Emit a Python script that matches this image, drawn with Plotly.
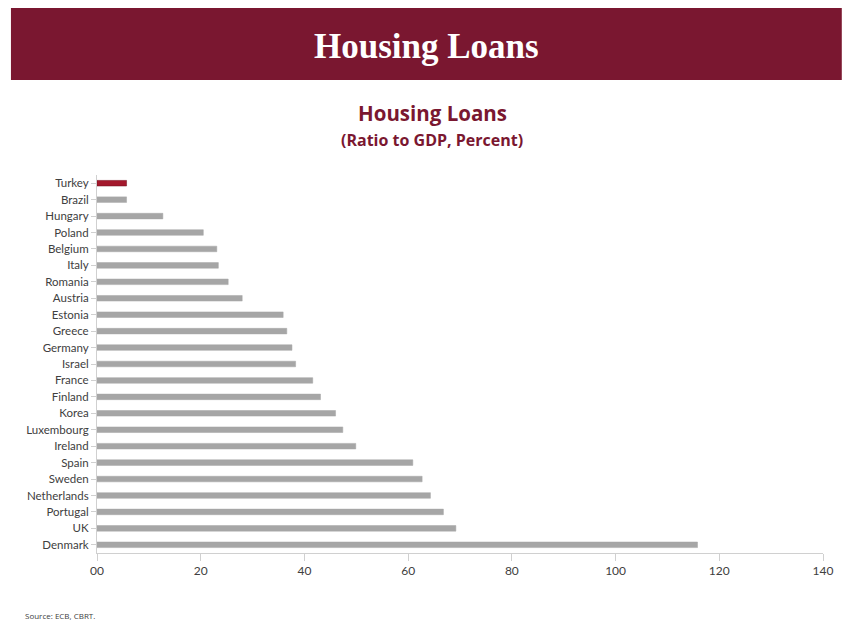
import plotly.graph_objects as go

# Housing loans as a share of GDP, percent
countries = ["Turkey", "Brazil", "Hungary", "Poland", "Belgium", "Italy", "Romania",
             "Austria", "Estonia", "Greece", "Germany", "Israel", "France", "Finland",
             "Korea", "Luxembourg", "Ireland", "Spain", "Sweden", "Netherlands",
             "Portugal", "UK", "Denmark"]
ratio_to_gdp = [5.7, 5.7, 12.7, 20.5, 23.1, 23.4, 25.3, 28.0, 35.9, 36.6, 37.6, 38.3,
                41.6, 43.1, 46.0, 47.4, 49.9, 60.9, 62.7, 64.3, 66.8, 69.2, 115.8]
tick_values = [0, 20, 40, 60, 80, 100, 120, 140]
tick_labels = ["00", "20", "40", "60", "80", "100", "120", "140"]
highlight = "Turkey"

MAROON = "#7a1730"
bar_colors = ["#a3182c" if c == highlight else "#a6a6a6" for c in countries]
line_colors = ["#6e0f1c" if c == highlight else "#a6a6a6" for c in countries]

W, H = 845, 622
L, R, T, B = 97, 14, 175, 69
PW, PH = W - L - R, H - T - B


def px(x):
    return (x - L) / PW


def py(y):
    return (H - B - y) / PH


fig = go.Figure(go.Bar(
    x=ratio_to_gdp,
    y=countries,
    orientation="h",
    width=0.34,
    marker=dict(color=bar_colors, line=dict(color=line_colors, width=0.5)),
    hoverinfo="x+y",
))

fig.update_layout(
    width=W, height=H,
    margin=dict(l=L, r=R, t=T, b=B),
    paper_bgcolor="white",
    plot_bgcolor="white",
    showlegend=False,
    font=dict(family="Lato, 'Open Sans', sans-serif", color="#404040"),
    xaxis=dict(
        range=[0, 140],
        tickvals=tick_values,
        ticktext=tick_labels,
        showgrid=False,
        zeroline=False,
        showline=True,
        linecolor="#d0d0d0",
        linewidth=1,
        ticks="outside",
        ticklen=7,
        tickcolor="#d0d0d0",
        tickfont=dict(size=12, color="#404040"),
        fixedrange=True,
    ),
    yaxis=dict(
        autorange="reversed",
        showgrid=False,
        showline=True,
        linecolor="#d0d0d0",
        linewidth=1,
        ticks="outside",
        ticklen=5,
        tickcolor="#d0d0d0",
        tickfont=dict(size=11.5, color="#404040"),
        fixedrange=True,
    ),
    shapes=[
        dict(type="rect", xref="paper", yref="paper",
             x0=px(10), x1=px(W + 5), y0=py(80), y1=py(8),
             fillcolor=MAROON, line=dict(width=0), layer="below"),
    ],
    annotations=[
        dict(text="<b>Housing Loans</b>", xref="paper", yref="paper",
             x=px(430), y=py(46), xanchor="center", yanchor="middle",
             showarrow=False,
             font=dict(family="'Liberation Serif', 'DejaVu Serif', serif", size=35, color="white")),
        dict(text="<b>Housing Loans</b>", xref="paper", yref="paper",
             x=px(436), y=py(113), xanchor="center", yanchor="middle",
             showarrow=False,
             font=dict(family="'Open Sans', sans-serif", size=20.5, color=MAROON)),
        dict(text="<b>(Ratio to GDP, Percent)</b>", xref="paper", yref="paper",
             x=px(436), y=py(140), xanchor="center", yanchor="middle",
             showarrow=False,
             font=dict(family="'Open Sans', sans-serif", size=16, color=MAROON)),
        dict(text="Source: ECB, CBRT.", xref="paper", yref="paper",
             x=px(22), y=py(615), xanchor="left", yanchor="middle",
             showarrow=False,
             font=dict(family="'Open Sans', sans-serif", size=8, color="#404040")),
    ],
)

fig.write_html("out.html")
